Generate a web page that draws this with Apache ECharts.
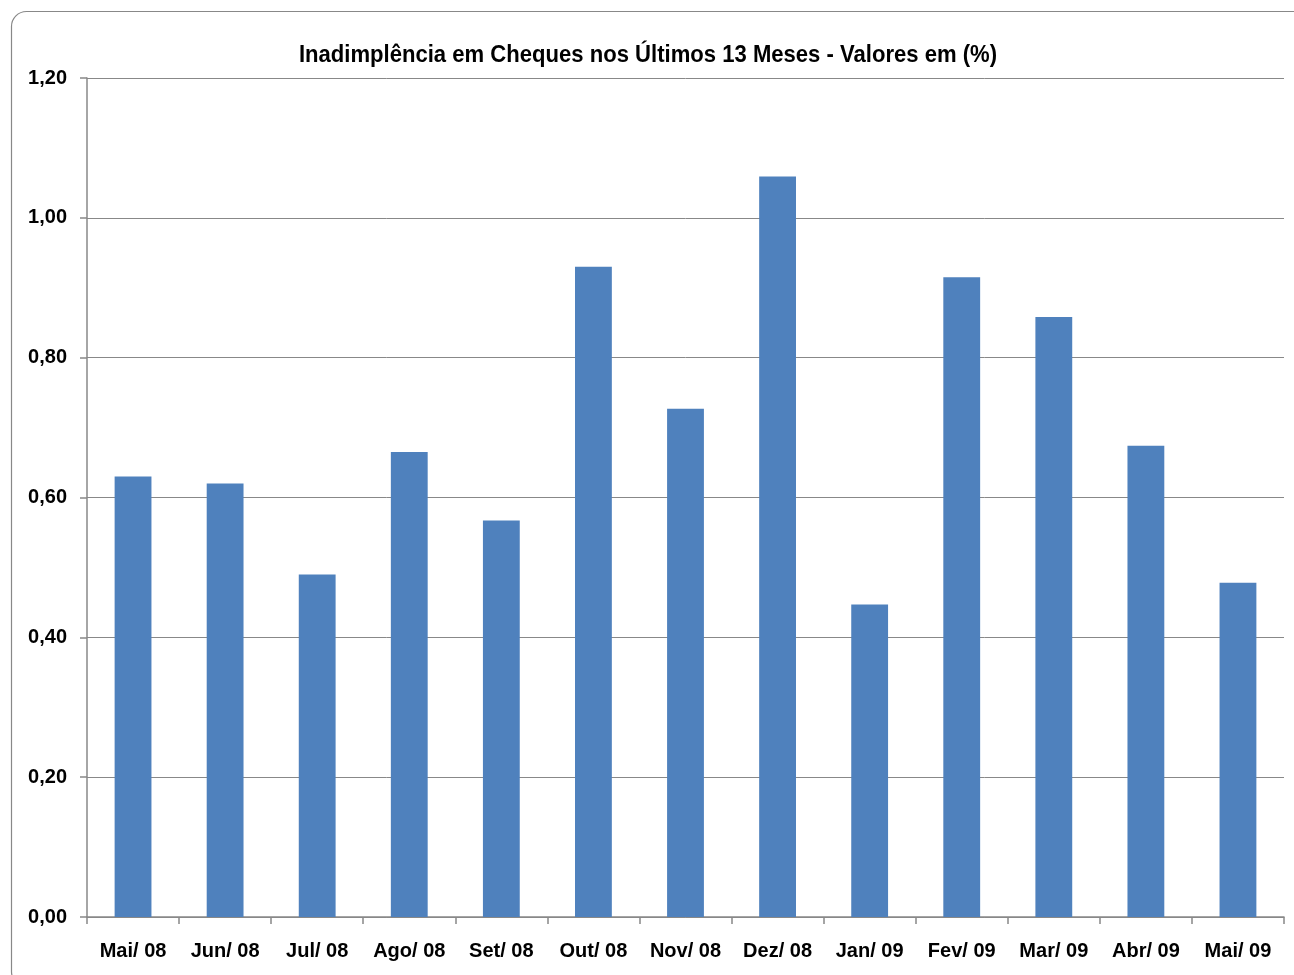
<!DOCTYPE html>
<html><head><meta charset="utf-8">
<script src="https://cdn.jsdelivr.net/npm/echarts@6/dist/echarts.min.js"></script>
<style>html,body{margin:0;padding:0;background:#fff}#c{width:1294px;height:975px}</style>
</head><body><div id="c"></div>
<script>
const categories = ['Mai/ 08','Jun/ 08','Jul/ 08','Ago/ 08','Set/ 08','Out/ 08','Nov/ 08','Dez/ 08','Jan/ 09','Fev/ 09','Mar/ 09','Abr/ 09','Mai/ 09'];
const values = [0.63, 0.62, 0.49, 0.665, 0.567, 0.93, 0.727, 1.059, 0.447, 0.915, 0.858, 0.674, 0.478];
const titleText = 'Inadimplência em Cheques nos Últimos 13 Meses - Valores em (%)';
const FONT = '"Liberation Sans Narrow", "Liberation Sans", Arial, sans-serif';
const chart = echarts.init(document.getElementById('c'));
chart.setOption({
  animation: false,
  backgroundColor: '#fff',
  graphic: [{
    type: 'rect', left: 9, top: 9, silent: true,
    shape: { width: 1300, height: 975, r: 15 },
    style: { fill: 'none', stroke: '#888', lineWidth: 1.2 }
  }, {
    type: 'text', x: 648, y: 55, scaleX: 0.92, silent: true,
    style: { text: titleText, fontFamily: FONT, fontWeight: 'bold', fontSize: 24, fill: '#000',
      align: 'center', verticalAlign: 'middle' }
  }],
  grid: { left: 87, right: 10, top: 78, bottom: 58, containLabel: false },
  xAxis: {
    type: 'category', data: categories,
    axisLine: { lineStyle: { color: '#888', width: 1.5 } },
    axisTick: { show: true, alignWithLabel: false, length: 7, lineStyle: { color: '#888', width: 1.5 } },
    axisLabel: { fontFamily: FONT, fontWeight: 'bold', fontSize: 20, color: '#000', margin: 24, interval: 0 }
  },
  yAxis: {
    type: 'value', min: 0, max: 1.2, interval: 0.2,
    axisLine: { show: true, lineStyle: { color: '#888', width: 1.5 } },
    axisTick: { show: true, length: 7, lineStyle: { color: '#888', width: 1.5 } },
    splitLine: { lineStyle: { color: '#888', width: 1 } },
    axisLabel: { fontFamily: FONT, fontWeight: 'bold', fontSize: 20, color: '#000', margin: 20,
      formatter: v => v.toFixed(2).replace('.', ',') }
  },
  series: [{
    type: 'bar', data: values, barWidth: '40%',
    itemStyle: { color: '#4f81bd' }
  }]
});
</script></body></html>
